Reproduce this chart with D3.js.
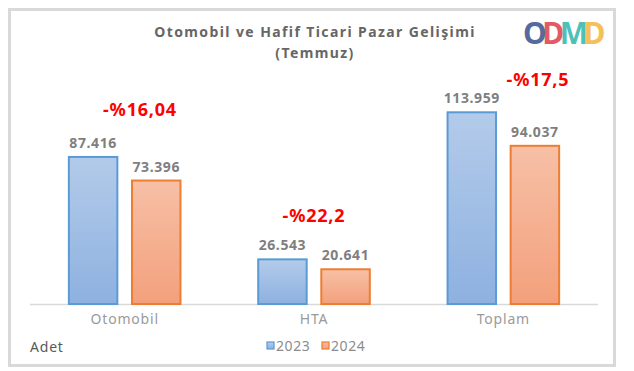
<!DOCTYPE html>
<html>
<head>
<meta charset="utf-8">
<script src="https://cdn.jsdelivr.net/npm/d3@7"></script>
<style>
  body { margin: 0; background: #fff; }
  text { font-family: "Noto Sans", "DejaVu Sans", sans-serif; }
</style>
</head>
<body>
<div id="chart"></div>
<script>
// data
var categories = ["Otomobil", "HTA", "Toplam"];
var years = ["2023", "2024"];
var values2023 = [87416, 26543, 113959];
var values2024 = [73396, 20641, 94037];
var changeLabels = ["-%16,04", "-%22,2", "-%17,5"];
var valueLabels2023 = ["87.416", "26.543", "113.959"];
var valueLabels2024 = ["73.396", "20.641", "94.037"];

var W = 634, H = 371;

var svg = d3.select("#chart")
  .append("svg")
    .attr("width", W)
    .attr("height", H);

var defs = svg.append("defs");
var g1 = defs.append("linearGradient").attr("id", "gBlue")
  .attr("x1", 0).attr("y1", 0).attr("x2", 0).attr("y2", 1);
g1.append("stop").attr("offset", "0%").attr("stop-color", "#b3cbea");
g1.append("stop").attr("offset", "100%").attr("stop-color", "#8eb1e0");
var g2 = defs.append("linearGradient").attr("id", "gOrange")
  .attr("x1", 0).attr("y1", 0).attr("x2", 0).attr("y2", 1);
g2.append("stop").attr("offset", "0%").attr("stop-color", "#f7c0a6");
g2.append("stop").attr("offset", "100%").attr("stop-color", "#f3a07c");

var fills = {"2023": "url(#gBlue)", "2024": "url(#gOrange)"};
var strokes = {"2023": "#5b9bd5", "2024": "#ed7d31"};

// frame
svg.append("rect")
  .attr("x", 9.5).attr("y", 9.5)
  .attr("width", 605).attr("height", 356)
  .attr("fill", "#fff")
  .attr("stroke", "#d9d9d9")
  .attr("stroke-width", 3);

// scales
var x0 = d3.scaleBand()
  .domain(categories)
  .range([30, 598])
  .paddingInner(0.4)
  .paddingOuter(0.2);

var x1 = d3.scaleBand()
  .domain(years)
  .range([0, x0.bandwidth()])
  .paddingInner(0.2);

var y = d3.scaleLinear()
  .domain([0, 140000])
  .range([304, 68.5]);

var rows = categories.map(function(c, i) {
  return {cat: c, vals: [
    {year: "2023", v: values2023[i], label: valueLabels2023[i]},
    {year: "2024", v: values2024[i], label: valueLabels2024[i]}
  ]};
});

// axis line
svg.append("line")
  .attr("x1", 30).attr("x2", 598)
  .attr("y1", y(0) + 0.5).attr("y2", y(0) + 0.5)
  .attr("stroke", "#d9d9d9")
  .attr("stroke-width", 1.5);

var groups = svg.selectAll(".grp")
  .data(rows)
  .enter()
  .append("g")
    .attr("class", "grp")
    .attr("transform", function(d) { return "translate(" + x0(d.cat) + ",0)"; });

groups.selectAll("rect")
  .data(function(d) { return d.vals; })
  .enter()
  .append("rect")
    .attr("x", function(d) { return x1(d.year) + 1; })
    .attr("y", function(d) { return y(d.v); })
    .attr("width", x1.bandwidth() - 2)
    .attr("height", function(d) { return y(0) - y(d.v); })
    .attr("fill", function(d) { return fills[d.year]; })
    .attr("stroke", function(d) { return strokes[d.year]; })
    .attr("stroke-width", 2);

groups.selectAll(".vlab")
  .data(function(d) { return d.vals; })
  .enter()
  .append("text")
    .attr("class", "vlab")
    .attr("x", function(d) { return x1(d.year) + x1.bandwidth() / 2; })
    .attr("y", function(d) { return y(d.v) - 9; })
    .attr("text-anchor", "middle")
    .attr("font-size", 14)
    .attr("font-weight", "bold")
    .attr("letter-spacing", 0.6)
    .attr("fill", "#7f7f7f")
    .text(function(d) { return d.label; });

// x axis labels
var xAxis = d3.axisBottom(x0).tickSize(0).tickPadding(10);
var ax = svg.append("g")
  .attr("transform", "translate(0," + y(0) + ")")
  .call(xAxis);
ax.select(".domain").remove();
ax.selectAll("text")
  .attr("font-size", 14)
  .attr("letter-spacing", 0.8)
  .attr("fill", "#9a9a9a")
  .style("font-family", '"Noto Sans", sans-serif');

// red change labels
var changeY = [116, 222, 86];
var changeX = [140, 314, 538];
svg.selectAll(".chg")
  .data(changeLabels)
  .enter()
  .append("text")
    .attr("class", "chg")
    .attr("x", function(d, i) { return changeX[i]; })
    .attr("y", function(d, i) { return changeY[i]; })
    .attr("text-anchor", "middle")
    .attr("font-size", 18)
    .attr("font-weight", "bold")
    .attr("letter-spacing", 0.8)
    .attr("fill", "#ff0000")
    .text(function(d) { return d; });

// title
svg.append("text")
  .attr("x", 315).attr("y", 37)
  .attr("text-anchor", "middle")
  .attr("font-size", 14)
  .attr("font-weight", "bold")
  .attr("letter-spacing", 1.4)
  .attr("fill", "#666")
  .text("Otomobil ve Hafif Ticari Pazar Gelişimi");
svg.append("text")
  .attr("x", 315).attr("y", 58)
  .attr("text-anchor", "middle")
  .attr("font-size", 14)
  .attr("font-weight", "bold")
  .attr("letter-spacing", 1.4)
  .attr("fill", "#666")
  .text("(Temmuz)");

// logo (one text, overlapping letters)
var logo = [
  {ch: "O", c: "#3e5592"},
  {ch: "D", c: "#e0424f"},
  {ch: "M", c: "#34b9ad"},
  {ch: "D", c: "#f4b740"}
];
svg.append("text")
  .attr("x", 523).attr("y", 44)
  .attr("font-size", 30)
  .attr("font-weight", "bold")
  .attr("letter-spacing", -4.5)
  .selectAll("tspan")
  .data(logo)
  .enter()
  .append("tspan")
    .attr("fill", function(d) { return d.c; })
    .attr("fill-opacity", 0.88)
    .text(function(d) { return d.ch; });

// Adet
svg.append("text")
  .attr("x", 30).attr("y", 352)
  .attr("font-size", 14)
  .attr("letter-spacing", 0.8)
  .attr("fill", "#595959")
  .text("Adet");

// legend
var legend = svg.selectAll(".leg")
  .data(years)
  .enter()
  .append("g")
    .attr("class", "leg")
    .attr("transform", function(d, i) { return "translate(" + (267 + i * 55) + ",342)"; });
legend.append("rect")
  .attr("width", 7).attr("height", 7)
  .attr("fill", function(d) { return fills[d]; })
  .attr("stroke", function(d) { return strokes[d]; })
  .attr("stroke-width", 1.2);
legend.append("text")
  .attr("x", 9).attr("y", 8.5)
  .attr("font-size", 14)
  .attr("letter-spacing", 0.6)
  .attr("fill", "#8c8c8c")
  .text(function(d) { return d; });
</script>
</body>
</html>
